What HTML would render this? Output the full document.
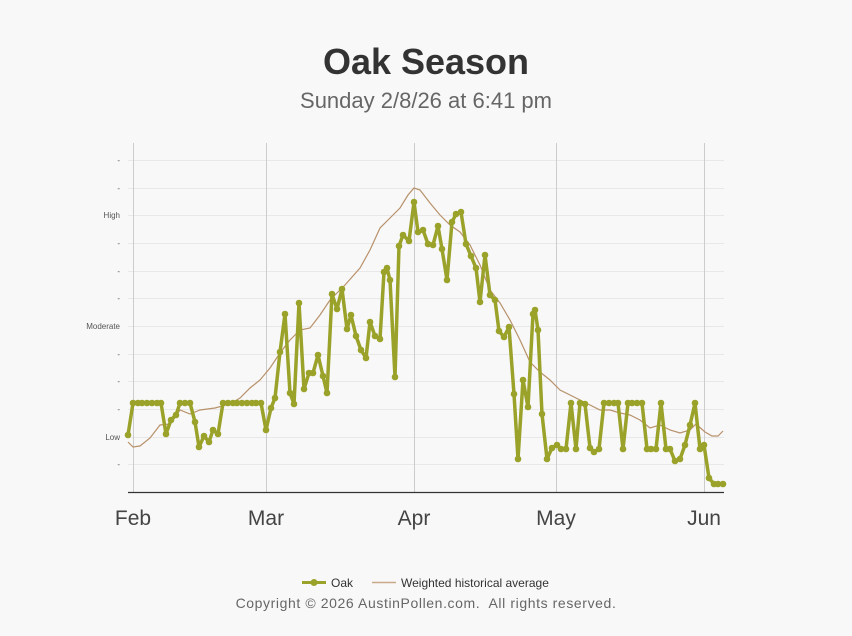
<!DOCTYPE html>
<html><head><meta charset="utf-8"><style>
html,body{margin:0;padding:0;background:#f8f8f8;}
body{width:852px;height:636px;overflow:hidden;font-family:"Liberation Sans",sans-serif;}
</style></head><body>
<svg id="s" width="852" height="636" xmlns="http://www.w3.org/2000/svg" style="position:absolute;left:0;top:0">
<rect width="852" height="636" fill="#f8f8f8"/>
<text x="426" y="74" text-anchor="middle" font-family="Liberation Sans, sans-serif" font-size="36" font-weight="bold" fill="#333">Oak Season</text>
<text x="426" y="108" text-anchor="middle" font-family="Liberation Sans, sans-serif" font-size="22" fill="#666">Sunday 2/8/26 at 6:41 pm</text>
<g id="grid" stroke="#e8e8e8" stroke-width="1"></g>
<g stroke="#cccccc" stroke-width="1">
<line x1="133.5" y1="143" x2="133.5" y2="492"/>
<line x1="266.5" y1="143" x2="266.5" y2="492"/>
<line x1="414.5" y1="143" x2="414.5" y2="492"/>
<line x1="556.5" y1="143" x2="556.5" y2="492"/>
<line x1="704.5" y1="143" x2="704.5" y2="492"/>
</g>
<line x1="128" y1="492.5" x2="724" y2="492.5" stroke="#333" stroke-width="1.2"/>
<g id="ylab" font-family="Liberation Sans, sans-serif" font-size="8" fill="#555" text-anchor="end"></g>
<g font-family="Liberation Sans, sans-serif" font-size="21" fill="#444" text-anchor="middle">
<text x="133" y="525">Feb</text><text x="266" y="525">Mar</text><text x="414" y="525">Apr</text><text x="556" y="525">May</text><text x="704" y="525">Jun</text>
</g>
<polyline id="avg" fill="none" stroke="#b8916a" stroke-width="1.2"/>
<polyline id="oak" fill="none" stroke="#9aa22a" stroke-width="3.5" stroke-linejoin="round"/>
<g id="dots" fill="#9aa22a"></g>
<line x1="302" y1="582.5" x2="326" y2="582.5" stroke="#9aa22a" stroke-width="3"/><circle cx="314" cy="582.5" r="3.5" fill="#9aa22a"/>
<text x="331" y="587" font-family="Liberation Sans, sans-serif" font-size="12" fill="#333">Oak</text>
<line x1="372" y1="582.5" x2="396" y2="582.5" stroke="#c8aa88" stroke-width="1.5"/>
<text x="401" y="587" font-family="Liberation Sans, sans-serif" font-size="12" fill="#333">Weighted historical average</text>
<text x="426" y="608" text-anchor="middle" font-family="Liberation Sans, sans-serif" font-size="14" fill="#666" letter-spacing="0.6">Copyright © 2026 AustinPollen.com.&#160; All rights reserved.</text>
</svg>
<script>
var ns="http://www.w3.org/2000/svg";
var gy=[160,188,215,243,271,298,326,354,381,409,437,464];
var g=document.getElementById('grid'),yl=document.getElementById('ylab');
gy.forEach(function(y){var l=document.createElementNS(ns,'line');l.setAttribute('x1',128);l.setAttribute('x2',724);l.setAttribute('y1',y+.5);l.setAttribute('y2',y+.5);g.appendChild(l);
var t=document.createElementNS(ns,'text');t.setAttribute('x',120);t.setAttribute('y',y+3);
t.textContent=y==215?'High':y==326?'Moderate':y==437?'Low':'-';yl.appendChild(t);});
var oak=[[128,435],[133,403],[138,403],[142,403],[147,403],[152,403],[157,403],[161,403],[166,434],[171,420],[176,415],[180,403],[185,403],[190,403],[195,422],[199,447],[204,436],[209,442],[213,430],[218,434],[223,403],[228,403],[233,403],[237,403],[242,403],[247,403],[252,403],[256,403],[261,403],[266,430],[271,408],[275,398],[280,352],[285,314],[290,393],[294,404],[299,303],[304,389],[309,373],[313,373],[318,355],[323,376],[327,393],[332,294],[337,309],[342,289],[347,329],[351,315],[356,336],[361,350],[366,358],[370,322],[375,336],[380,339],[384,272],[387,268],[390,280],[395,377],[399,246],[403,235],[409,241],[414,202],[418,232],[423,230],[428,244],[433,245],[438,226],[442,249],[447,280],[452,222],[456,214],[461,212],[466,244],[471,256],[476,268],[480,302],[485,255],[490,295],[495,300],[499,331],[504,337],[509,327],[514,394],[518,459],[523,380],[528,407],[533,314],[535,310],[538,330],[542,414],[547,459],[552,448],[557,445],[561,449],[566,449],[571,403],[576,449],[580,403],[585,404],[590,448],[594,452],[599,449],[604,403],[609,403],[614,403],[618,403],[623,449],[628,403],[632,403],[637,403],[642,403],[647,449],[651,449],[656,449],[661,403],[666,449],[670,449],[675,461],[680,459],[685,445],[690,425],[695,403],[700,449],[704,445],[709,478],[714,484],[718,484],[723,484]];
var avg=[[128,442],[133,447],[140,446],[150,438],[160,425],[170,424],[180,410],[190,414],[200,410],[215,408],[230,404],[240,398],[250,388],[260,380],[270,368],[280,353],[290,340],[300,330],[310,328],[320,315],[330,300],[345,285],[360,268],[370,250],[380,228],[390,218],[400,208],[408,195],[414,188],[420,190],[430,203],[440,215],[450,225],[460,232],[470,245],[480,265],[490,290],[500,303],[510,320],[520,340],[530,362],[540,372],[550,380],[560,390],[570,395],[580,400],[590,405],[600,410],[610,410],[620,413],[630,415],[640,420],[650,428],[660,425],[670,430],[680,433],[690,430],[696,424],[705,432],[712,436],[718,436],[723,431]];
document.getElementById('oak').setAttribute('points',oak.map(function(p){return p.join(',')}).join(' '));
document.getElementById('avg').setAttribute('points',avg.map(function(p){return p.join(',')}).join(' '));
var d=document.getElementById('dots');
oak.forEach(function(p){var c=document.createElementNS(ns,'circle');c.setAttribute('cx',p[0]);c.setAttribute('cy',p[1]);c.setAttribute('r',3.3);d.appendChild(c);});
</script>
</body></html>
